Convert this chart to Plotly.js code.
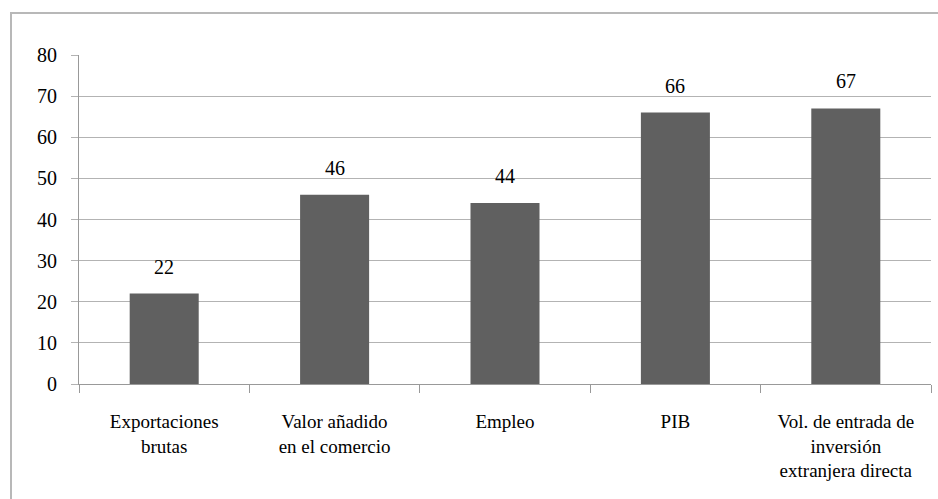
<!DOCTYPE html>
<html>
<head>
<meta charset="utf-8">
<script src="https://cdn.plot.ly/plotly-3.0.1.min.js"></script>
<style>html,body{margin:0;padding:0;background:#fff;}#chart{width:938px;height:499px;}</style>
</head>
<body>
<div id="chart"></div>
<script>
var categories = ["Exportaciones<br>brutas", "Valor añadido<br>en el comercio", "Empleo", "PIB", "Vol. de entrada de<br>inversión<br>extranjera directa"];
var values = [22, 46, 44, 66, 67];
var yTicks = [0, 10, 20, 30, 40, 50, 60, 70, 80];

var fontFam = "Times New Roman";
var trace = {
  type: "bar",
  x: categories,
  y: values,
  marker: {color: "#606060"},
  hoverinfo: "none"
};
var annotations = categories.map(function (c, i) {
  return {
    x: c, y: values[i], xref: "x", yref: "y",
    text: String(values[i]), showarrow: false,
    yanchor: "bottom", yshift: 14,
    font: {family: fontFam, size: 20, color: "#000"}
  };
});
var layout = {
  width: 938, height: 499,
  margin: {l: 79, r: 7, t: 55, b: 115},
  paper_bgcolor: "#fff", plot_bgcolor: "#fff",
  showlegend: false,
  bargap: 0.595,
  font: {family: fontFam, size: 20, color: "#000"},
  xaxis: {
    type: "category",
    showgrid: false,
    showline: true, linecolor: "#999", linewidth: 1,
    ticks: "outside", tickson: "boundaries", ticklen: 8, tickcolor: "#999",
    ticklabelstandoff: 20,
    tickfont: {family: fontFam, size: 19, color: "#000"},
    zeroline: false
  },
  yaxis: {
    range: [0, 80],
    tickvals: yTicks,
    ticktext: yTicks.map(String),
    showgrid: true, gridcolor: "#b3b3b3", gridwidth: 1,
    showline: true, linecolor: "#999", linewidth: 1,
    ticks: "outside", ticklen: 7, tickcolor: "#b3b3b3",
    ticklabelstandoff: 10,
    tickfont: {family: fontFam, size: 20, color: "#000"},
    zeroline: false
  },
  annotations: annotations,
  shapes: [{
    type: "rect", xref: "paper", yref: "paper",
    x0: (11 - 79) / 852, x1: 1.02,
    y0: -0.4, y1: (384 - 13) / 329,
    line: {color: "#b8b8b8", width: 2},
    fillcolor: "rgba(0,0,0,0)",
    layer: "below"
  }]
};
Plotly.newPlot("chart", [trace], layout, {staticPlot: true});
</script>
</body>
</html>
